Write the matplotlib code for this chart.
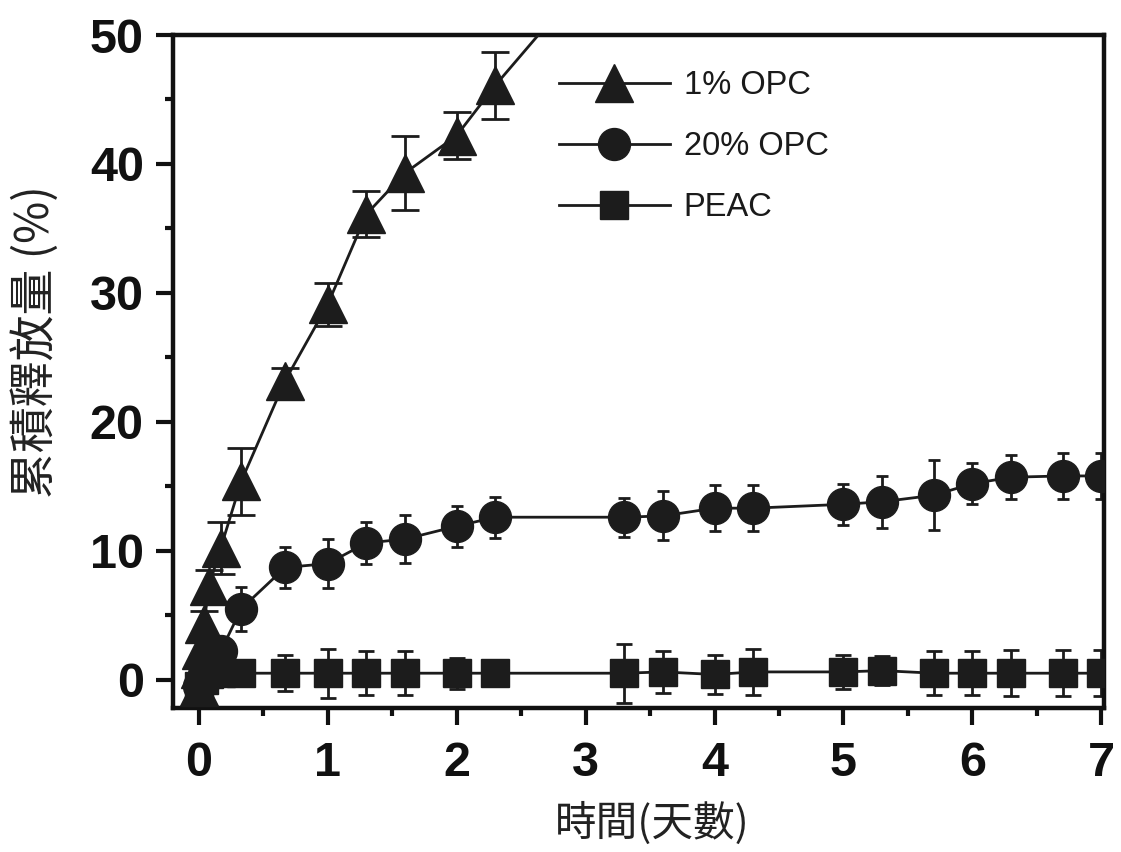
import matplotlib
matplotlib.use("Agg")
import matplotlib.pyplot as plt
from matplotlib.ticker import MultipleLocator
from matplotlib.lines import Line2D

# Cumulative release (%) over time (days)
t_opc1 = [0, 0.01, 0.02, 0.04, 0.08, 0.17, 0.33, 0.67, 1.0, 1.3, 1.6, 2.0, 2.3, 3.3]
opc1 = [-0.6, 0.8, 2.3, 4.3, 7.3, 10.2, 15.4, 23.2, 29.1, 36.1, 39.3, 42.2, 46.1, 57.8]
opc1_err = [0.4, 0.5, 0.8, 1.0, 1.2, 2.0, 2.6, 1.0, 1.7, 1.8, 2.9, 1.8, 2.6, 2.5]

t_opc20 = [0, 0.04, 0.08, 0.17, 0.33, 0.67, 1.0, 1.3, 1.6, 2.0, 2.3,
           3.3, 3.6, 4.0, 4.3, 5.0, 5.3, 5.7, 6.0, 6.3, 6.7, 7.0]
opc20 = [-0.5, 0.4, 1.1, 2.2, 5.5, 8.7, 9.0, 10.6, 10.9, 11.9, 12.6,
         12.6, 12.7, 13.3, 13.3, 13.6, 13.8, 14.3, 15.2, 15.7, 15.8, 15.8]
opc20_err = [0.5, 0.6, 0.8, 1.0, 1.7, 1.6, 1.9, 1.6, 1.85, 1.6, 1.6,
             1.5, 1.9, 1.8, 1.8, 1.6, 2.0, 2.7, 1.6, 1.7, 1.8, 1.8]

t_peac = [0, 0.04, 0.08, 0.17, 0.33, 0.67, 1.0, 1.3, 1.6, 2.0, 2.3,
          3.3, 3.6, 4.0, 4.3, 5.0, 5.3, 5.7, 6.0, 6.3, 6.7, 7.0]
peac = [-0.5, 0.0, 0.4, 0.5, 0.5, 0.5, 0.5, 0.5, 0.5, 0.5, 0.5,
        0.5, 0.6, 0.4, 0.6, 0.6, 0.7, 0.5, 0.5, 0.5, 0.5, 0.5]
peac_err = [0.8, 0.8, 0.8, 1.0, 1.0, 1.4, 1.9, 1.7, 1.7, 1.2, 0.3,
            2.3, 1.6, 1.5, 1.8, 1.3, 1.1, 1.7, 1.7, 1.8, 1.8, 1.8]

labels = ["1% OPC", "20% OPC", "PEAC"]
x_ticks = [0, 1, 2, 3, 4, 5, 6, 7]
y_ticks = [0, 10, 20, 30, 40, 50]

ink = "#1c1c1c"
num_font = "Liberation Sans"
cjk_font = ["Noto Sans CJK TC", "DejaVu Sans"]

fig = plt.figure(figsize=(11.21, 8.52), dpi=100)
ax = fig.add_axes([0.1543, 0.169, 0.8305, 0.7899])


def draw_series(t, y, err, marker, ms, capsize):
    ax.errorbar(t, y, yerr=err, fmt="none", ecolor=ink, elinewidth=2.0,
                capsize=capsize, capthick=2.0, zorder=2)
    ax.plot(t, y, color=ink, lw=2.0, zorder=3)
    ax.plot(t, y, ls="none", marker=marker, ms=ms, mfc=ink, mec=ink,
            mew=1.0, zorder=4)


draw_series(t_opc1, opc1, opc1_err, "^", 27, 10)
draw_series(t_opc20, opc20, opc20_err, "o", 23, 4)
draw_series(t_peac, peac, peac_err, "s", 20, 5.5)

ax.set_xlim(-0.2, 7.02)
ax.set_ylim(-2.2, 50)
ax.set_xticks(x_ticks)
ax.set_yticks(y_ticks)
ax.xaxis.set_minor_locator(MultipleLocator(0.5))
ax.yaxis.set_minor_locator(MultipleLocator(5))

for side in ["left", "right", "top", "bottom"]:
    ax.spines[side].set_linewidth(3.2)
    ax.spines[side].set_color("#111111")

ax.tick_params(which="major", direction="out", length=12, width=3,
               color="#111111")
ax.tick_params(which="minor", direction="out", length=6, width=3,
               color="#111111")
ax.tick_params(axis="x", which="major", pad=12)
ax.tick_params(axis="y", which="major", pad=9)
ax.tick_params(axis="y", which="both", right=False)
ax.tick_params(axis="x", which="both", top=False)

for lab in ax.get_xticklabels() + ax.get_yticklabels():
    lab.set_fontfamily(num_font)
    lab.set_fontweight("bold")
    lab.set_fontsize(35)
    lab.set_color("#111111")

ax.set_xlabel("時間(天數)", family=cjk_font, fontsize=30, color="#222222",
              va="center")
ax.xaxis.set_label_coords(0.5145, -0.171)
ax.set_ylabel("累積釋放量 (%)", family=cjk_font, fontsize=33, color="#222222",
              va="center")
ax.yaxis.set_label_coords(-0.148, 0.544)

handles = [
    Line2D([], [], color=ink, lw=2.0, marker="^", ms=27, mfc=ink, mec=ink),
    Line2D([], [], color=ink, lw=2.0, marker="o", ms=23, mfc=ink, mec=ink),
    Line2D([], [], color=ink, lw=2.0, marker="s", ms=20, mfc=ink, mec=ink),
]
leg = ax.legend(handles, labels, loc="upper left",
                bbox_to_anchor=(559 / 1121, 1 - 70 / 852),
                bbox_transform=fig.transFigure, frameon=False,
                prop={"family": num_font, "size": 23.5},
                handlelength=3.4, handletextpad=0.42, labelspacing=0.92,
                borderpad=0, borderaxespad=0)
for txt in leg.get_texts():
    txt.set_color("#1a1a1a")

fig.savefig("out.png", dpi=100, facecolor="white")
